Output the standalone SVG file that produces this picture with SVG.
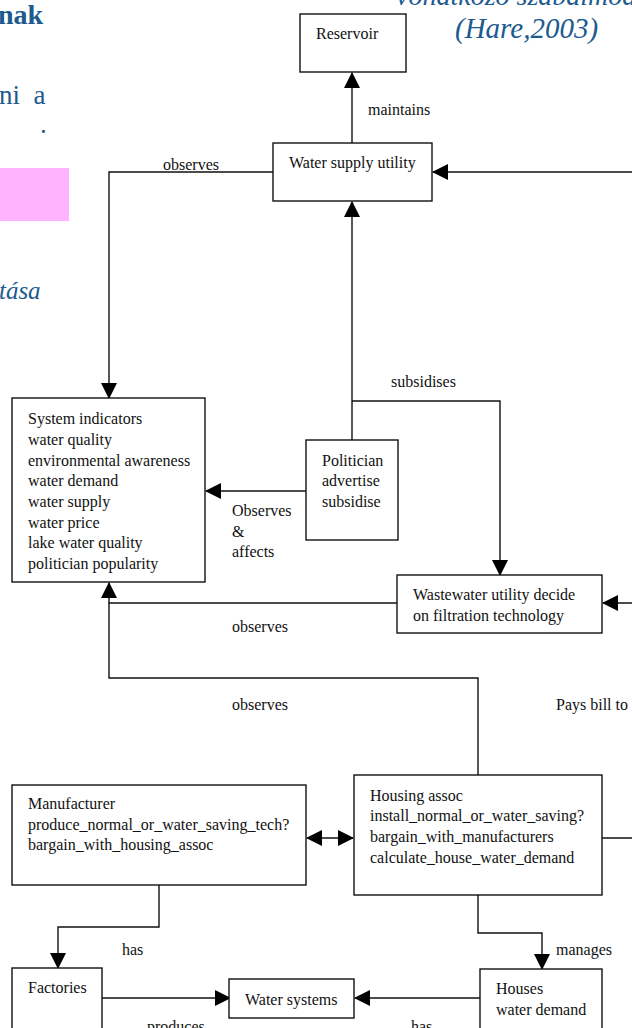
<svg xmlns="http://www.w3.org/2000/svg" width="632" height="1028" viewBox="0 0 632 1028">
<defs>
<marker id="ah" viewBox="0 0 16 16" refX="15" refY="8" markerWidth="16" markerHeight="16" markerUnits="userSpaceOnUse" orient="auto-start-reverse">
<path d="M0,0 L16,8 L0,16 z" fill="#000"/>
</marker>
<style>
.box{fill:#fff;stroke:#111;stroke-width:1.4}
.t{font-family:"Liberation Serif",serif;font-size:16px;fill:#111}
.c{fill:none;stroke:#111;stroke-width:1.4}
.slide{font-family:"Liberation Serif",serif;fill:#1d5a8e}
</style>
</defs>
<rect width="632" height="1028" fill="#fff"/>
<g id="slide-fragments">
<rect x="0" y="168" width="69" height="53" fill="#ffb3ff"/>
<text class="slide" x="-2" y="24" font-size="28" font-weight="bold">nak</text>
<text class="slide" x="-1" y="104" font-size="27" xml:space="preserve">ni  a</text>
<text class="slide" x="40" y="133" font-size="27">.</text>
<text class="slide" x="-8" y="299" font-size="25" font-style="italic">ltása</text>
<text class="slide" x="396" y="5" font-size="28" font-style="italic">vonatkozó szabálmodell</text>
<text class="slide" x="455" y="38" font-size="29" font-style="italic">(Hare,2003)</text>
</g>
<g id="connectors">
<path class="c" d="M352,143 V73" marker-end="url(#ah)"/>
<path class="c" d="M640,172 H433" marker-end="url(#ah)"/>
<path class="c" d="M273,172 H109 V398" marker-end="url(#ah)"/>
<path class="c" d="M352,440 V202" marker-end="url(#ah)"/>
<path class="c" d="M352,401 H500 V575" marker-end="url(#ah)"/>
<path class="c" d="M306,491 H206" marker-end="url(#ah)"/>
<path class="c" d="M640,603 H603" marker-end="url(#ah)"/>
<path class="c" d="M397,603 H109 V583" marker-end="url(#ah)"/>
<path class="c" d="M478,775 V678 H109 V603"/>
<path class="c" d="M602,838 H640"/>
<path class="c" d="M307,838 H353" marker-start="url(#ah)" marker-end="url(#ah)"/>
<path class="c" d="M159,885 V927 H58 V968" marker-end="url(#ah)"/>
<path class="c" d="M102,998 H230" marker-end="url(#ah)"/>
<path class="c" d="M480,998 H355" marker-end="url(#ah)"/>
<path class="c" d="M478,895 V933 H542 V969" marker-end="url(#ah)"/>
<text class="t" x="368" y="115">maintains</text>
<text class="t" x="163" y="170">observes</text>
<text class="t" x="391" y="387">subsidises</text>
<text class="t" x="232" y="516">Observes</text>
<text class="t" x="232" y="537">&amp;</text>
<text class="t" x="232" y="557">affects</text>
<text class="t" x="232" y="632">observes</text>
<text class="t" x="232" y="710">observes</text>
<text class="t" x="556" y="710">Pays bill to</text>
<text class="t" x="122" y="955">has</text>
<text class="t" x="556" y="955">manages</text>
<text class="t" x="147" y="1032">produces</text>
<text class="t" x="411" y="1032">has</text>
</g>
<g id="reservoir">
<rect class="box" x="300" y="14" width="106" height="58"/>
<text class="t" x="316" y="39">Reservoir</text>
</g>
<g id="water-supply-utility">
<rect class="box" x="273" y="143" width="159" height="58"/>
<text class="t" x="289" y="168">Water supply utility</text>
</g>
<g id="system-indicators">
<rect class="box" x="12" y="398" width="193" height="184"/>
<text class="t" x="28" y="424">System indicators</text>
<text class="t" x="28" y="445">water quality</text>
<text class="t" x="28" y="466">environmental awareness</text>
<text class="t" x="28" y="486">water demand</text>
<text class="t" x="28" y="507">water supply</text>
<text class="t" x="28" y="528">water price</text>
<text class="t" x="28" y="548">lake water quality</text>
<text class="t" x="28" y="569">politician popularity</text>
</g>
<g id="politician">
<rect class="box" x="306" y="440" width="92" height="100"/>
<text class="t" x="322" y="466">Politician</text>
<text class="t" x="322" y="486">advertise</text>
<text class="t" x="322" y="507">subsidise</text>
</g>
<g id="wastewater-utility">
<rect class="box" x="397" y="575" width="205" height="58"/>
<text class="t" x="413" y="600">Wastewater utility decide</text>
<text class="t" x="413" y="621">on filtration technology</text>
</g>
<g id="manufacturer">
<rect class="box" x="12" y="785" width="294" height="100"/>
<text class="t" x="28" y="809">Manufacturer</text>
<text class="t" x="28" y="830">produce_normal_or_water_saving_tech?</text>
<text class="t" x="28" y="850">bargain_with_housing_assoc</text>
</g>
<g id="housing-assoc">
<rect class="box" x="354" y="775" width="248" height="120"/>
<text class="t" x="370" y="801">Housing assoc</text>
<text class="t" x="370" y="821">install_normal_or_water_saving?</text>
<text class="t" x="370" y="842">bargain_with_manufacturers</text>
<text class="t" x="370" y="863">calculate_house_water_demand</text>
</g>
<g id="factories">
<rect class="box" x="12" y="968" width="90" height="70"/>
<text class="t" x="28" y="993">Factories</text>
</g>
<g id="water-systems">
<rect class="box" x="229" y="979" width="125" height="39"/>
<text class="t" x="245" y="1005">Water systems</text>
</g>
<g id="houses">
<rect class="box" x="480" y="969" width="122" height="70"/>
<text class="t" x="496" y="994">Houses</text>
<text class="t" x="496" y="1015">water demand</text>
</g>
</svg>
